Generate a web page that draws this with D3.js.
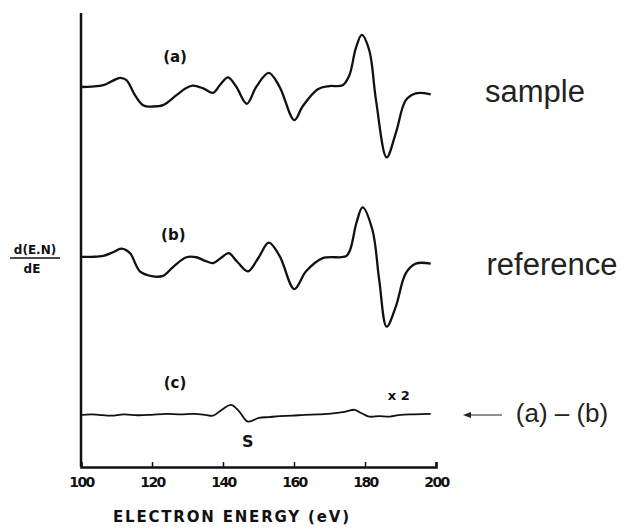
<!DOCTYPE html>
<html>
<head>
<meta charset="utf-8">
<script src="https://cdn.jsdelivr.net/npm/d3@7"></script>
<style>
    body { margin: 0; background: #fff; }
    svg { display: block; }
</style>
</head>
<body>
<div class="visual"></div>
<script>
// energy (eV), dN/dE in arbitrary units
const sampleCurve = [
    [100.3, 0], [103, 0.1], [106.3, 0.4], [109, 1.4], [111, 2.0], [112.8, 1.5], [115.2, -1.8], [117.5, -4.0],
    [120.3, -4.3], [123.1, -4.0], [126.9, -1.8], [129.5, -0.3], [131.5, 0.3], [134.4, -0.3], [137.2, -1.3],
    [139.3, 0.6], [141.4, 2.1], [143.7, 0.1], [146.7, -3.7], [149.4, 0.1], [152.9, 3.1], [155.9, 0.1],
    [160.1, -7.3], [162.4, -4.3], [166.7, -0.5], [169.9, 0.2], [173.7, 0.4], [175.6, 2.6], [177.4, 8.5],
    [179.1, 11.5], [181.2, 8.1], [183.1, -2.9], [186.1, -15.5], [188.7, -10.1], [191.5, -2.9], [194.3, -1.4],
    [198.5, -1.6]
];
const referenceCurve = [
    [100.2, 0], [103, 0.0], [106.3, 0.2], [109, 1.0], [111.4, 1.8], [113.8, 0.8], [116.6, -3.2], [120.3, -4.3],
    [123.1, -4.2], [126, -2.2], [129.7, -0.1], [132.5, -0.1], [135, -0.9], [137.2, -1.4], [139.5, -0.2],
    [141.6, 0.8], [144, -1.1], [147, -3.2], [150, -0.2], [152.9, 3.1], [156, 0.1], [160.1, -7.1],
    [163.4, -3.2], [168.1, -0.3], [174.6, 0.1], [175.8, 1.5], [177.6, 7.5], [179.3, 10.9], [182.1, 5.9],
    [184, -5.1], [186.1, -15.4], [188.7, -10.9], [191.5, -3.6], [194.3, -1.5], [198.5, -1.5]
];
const differenceCurve = [
    [100.3, 0], [103, 0.1], [105, 0.0], [108.5, -0.2], [112, 0.1], [116, -0.1], [119.8, 0], [124, 0.2],
    [128, 0.1], [132, 0.2], [135, 0], [137.2, -0.2], [139.5, 1.0], [142.3, 2.2], [144.6, 0.7], [147, -1.5],
    [150.1, -0.7], [153, -0.5], [156, -0.3], [159.5, -0.2], [163, 0], [167, 0.1], [171, 0.3], [174.6, 0.7],
    [177, 1.1], [178.9, 0.4], [181.2, -0.4], [184, -0.3], [187, -0.4], [190, 0], [194, 0.1], [198.5, 0.2]
];
const curveOffsets = [83.7, 46.3, 11.5];
const curveLabels = ["(a)", "(b)", "(c)"];
const sideLabels = ["sample", "reference", "(a) \u2013 (b)"];
const xTicks = [100, 120, 140, 160, 180, 200];

function display() {
    const width = 622, height = 528;
    const svg = d3.select(".visual").append("svg")
        .attr("width", width)
        .attr("height", height);

    const x = d3.scaleLinear().domain([100, 200]).range([81, 436]);
    const y = d3.scaleLinear().domain([0, 100]).range([467, 13]);

    // axes
    const xAxis = svg.append("g")
        .attr("transform", `translate(0, ${y(0)})`)
        .call(d3.axisBottom(x).tickValues(xTicks).tickSize(-5).tickPadding(10).tickFormat(d3.format("d")));
    xAxis.select(".domain").attr("stroke", "#111").attr("stroke-width", 2.5);
    xAxis.selectAll(".tick line").attr("stroke", "#111").attr("stroke-width", 1.5);
    xAxis.selectAll(".tick text")
        .style("font-family", "DejaVu Sans")
        .style("font-weight", "bold")
        .style("font-size", "14px")
        .attr("fill", "#111")
        .attr("letter-spacing", "-1.5px");

    svg.append("line")
        .attr("x1", x(100)).attr("x2", x(100))
        .attr("y1", y(100)).attr("y2", y(0))
        .attr("stroke", "#111")
        .attr("stroke-width", 2.5);

    // curves
    const line = d3.line()
        .x(d => x(d[0]))
        .curve(d3.curveCatmullRom.alpha(0.5));

    [sampleCurve, referenceCurve, differenceCurve].forEach((data, i) => {
        svg.append("path")
            .datum(data)
            .attr("fill", "none")
            .attr("stroke", "#111")
            .attr("stroke-width", i === 2 ? 1.8 : 2.3)
            .attr("stroke-linejoin", "round")
            .attr("d", line.y(d => y(curveOffsets[i] + d[1])));
    });

    // small bold labels on the plot
    const smallLabels = [
        { text: curveLabels[0], e: 126.5, v: curveOffsets[0] + 6.5, size: 15 },
        { text: curveLabels[1], e: 126, v: curveOffsets[1] + 4.8, size: 15 },
        { text: curveLabels[2], e: 126.5, v: curveOffsets[2] + 7, size: 15 },
        { text: "x 2", e: 189.5, v: curveOffsets[2] + 4, size: 13 },
        { text: "S", e: 147, v: curveOffsets[2] - 6.2, size: 16 }
    ];
    svg.selectAll(".small-label")
        .data(smallLabels)
        .enter()
        .append("text")
        .attr("class", "small-label")
        .attr("x", d => x(d.e))
        .attr("y", d => y(d.v))
        .attr("text-anchor", "middle")
        .attr("dominant-baseline", "middle")
        .style("font-family", "DejaVu Sans")
        .style("font-weight", "bold")
        .style("font-size", d => d.size + "px")
        .attr("fill", "#111")
        .text(d => d.text);

    // side labels
    const sidePos = [
        { x: 535, y: 102, size: 31 },
        { x: 552, y: 275, size: 31 },
        { x: 562, y: 422, size: 26 }
    ];
    svg.selectAll(".side-label")
        .data(sideLabels)
        .enter()
        .append("text")
        .attr("class", "side-label")
        .attr("x", (d, i) => sidePos[i].x)
        .attr("y", (d, i) => sidePos[i].y)
        .attr("text-anchor", "middle")
        .style("font-family", "Liberation Sans")
        .style("font-size", (d, i) => sidePos[i].size + "px")
        .attr("fill", "#222")
        .text(d => d);

    // arrow pointing at (c)
    const arrowY = 415;
    svg.append("line")
        .attr("x1", 468).attr("x2", 502)
        .attr("y1", arrowY).attr("y2", arrowY)
        .attr("stroke", "#222")
        .attr("stroke-width", 1.2);
    svg.append("path")
        .attr("d", `M463,${arrowY} L471,${arrowY - 3} L471,${arrowY + 3} Z`)
        .attr("fill", "#222");

    // y label as a fraction
    const yl = svg.append("g").attr("transform", "translate(35, 258)");
    yl.append("text")
        .attr("y", -4)
        .attr("text-anchor", "middle")
        .style("font-family", "DejaVu Sans")
        .style("font-weight", "bold")
        .style("font-size", "12px")
        .attr("fill", "#111")
        .text("d(E.N)");
    yl.append("line")
        .attr("x1", -25).attr("x2", 25)
        .attr("stroke", "#111")
        .attr("stroke-width", 1.5);
    yl.append("text")
        .attr("y", 15)
        .attr("x", -3)
        .attr("text-anchor", "middle")
        .style("font-family", "DejaVu Sans")
        .style("font-weight", "bold")
        .style("font-size", "12px")
        .attr("fill", "#111")
        .text("dE");

    // x title
    svg.append("text")
        .attr("x", 231)
        .attr("y", 522)
        .attr("text-anchor", "middle")
        .attr("textLength", 236)
        .style("font-family", "DejaVu Sans")
        .style("font-weight", "bold")
        .style("font-size", "15px")
        .attr("fill", "#111")
        .text("ELECTRON ENERGY  (eV)");
}

window.onload = function() {
    display();
};
</script>
</body>
</html>
